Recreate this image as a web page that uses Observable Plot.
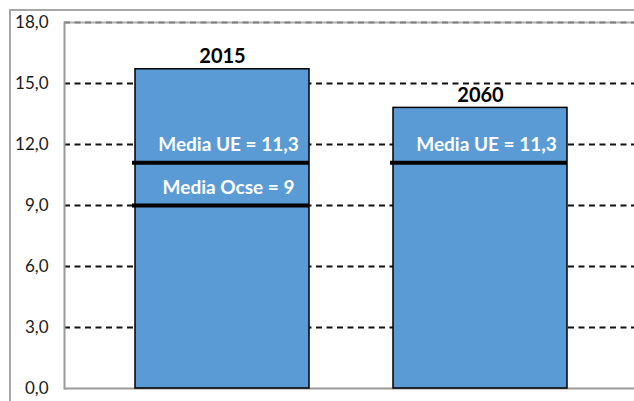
<!DOCTYPE html>
<html>
<head>
<meta charset="utf-8">
<script src="https://cdn.jsdelivr.net/npm/d3@7"></script>
<script src="https://cdn.jsdelivr.net/npm/@observablehq/plot@0.6"></script>
<style>
  body { margin: 0; background: white; }
  #wrap { position: relative; width: 634px; height: 401px; overflow: hidden; }
  #frame { position: absolute; left: 9px; top: 9px; width: 700px; height: 500px; border: 2px solid #a6a6a6; }
  #chart { position: absolute; left: 0; top: 0; }
</style>
</head>
<body>
<div id="wrap"><div id="frame"></div><div id="chart"></div></div>
<script>
const years = ["2015", "2060"];
const values = [15.7, 13.8];
const lineYears = ["2015", "2015", "2060"];
const lineValues = [11.1, 9.0, 11.1];
const lineLabels = ["Media UE = 11,3", "Media Ocse = 9", "Media UE = 11,3"];
const yTicks = [0, 3, 6, 9, 12, 15, 18];
const gridTicks = [3, 6, 9, 12, 15];

const bars = years.map((y, i) => ({year: y, value: values[i]}));
const means = lineYears.map((y, i) => ({year: y, value: lineValues[i], label: lineLabels[i]}));
const fmt = d => d.toFixed(1).replace(".", ",");

const chart = Plot.plot({
  width: 634,
  height: 401,
  marginLeft: 64,
  marginRight: 0,
  marginTop: 22,
  marginBottom: 13,
  style: {fontFamily: "Lato", background: "transparent", color: "#1a1a1a"},
  x: {domain: years, range: [64, 638], paddingInner: 0.326, paddingOuter: 0.275, axis: null},
  y: {domain: [0, 18], label: null},
  marks: [
    Plot.ruleY(gridTicks, {stroke: "#111", strokeWidth: 1.8, strokeDasharray: "6,4.5"}),
    Plot.ruleY([18], {stroke: "#b0b0b0", strokeWidth: 2}),
    Plot.ruleY([18], {stroke: "#808080", strokeWidth: 2, strokeDasharray: "6,4.5"}),
    Plot.ruleY([0], {stroke: "#9a9a9a", strokeWidth: 2}),
    Plot.frame({anchor: "left", stroke: "#9a9a9a", strokeWidth: 2}),
    Plot.barY(bars, {x: "year", y: "value", fill: "#5B9BD5", stroke: "#000", strokeWidth: 1.5}),
    Plot.tickY(means, {x: "year", y: "value", stroke: "#000", strokeWidth: 4, insetLeft: -3}),
    Plot.text(means, {x: "year", y: "value", text: "label", fill: "white", fontWeight: "bold", fontSize: 19, lineAnchor: "bottom", dy: -12, dx: 6}),
    Plot.text(bars, {x: "year", y: "value", text: "year", fill: "#000", fontWeight: "bold", fontSize: 20, lineAnchor: "bottom", dy: -6}),
    Plot.axisY({ticks: yTicks, tickSize: 0, tickPadding: 16, tickFormat: fmt, fontSize: 17, label: null})
  ]
});
document.getElementById("chart").appendChild(chart);
</script>
</body>
</html>
